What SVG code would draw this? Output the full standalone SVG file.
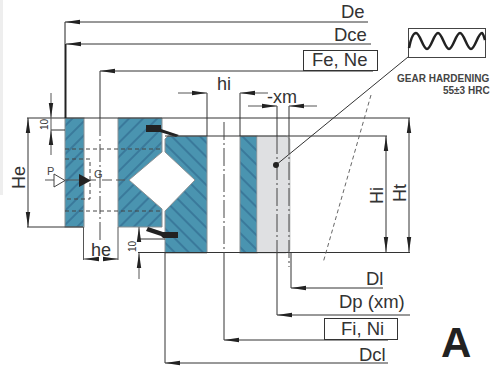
<svg xmlns="http://www.w3.org/2000/svg" width="491" height="366" viewBox="0 0 491 366">
<style>
text{font-family:"Liberation Sans",Arial,sans-serif;fill:#333}
.t16{font-size:18.500px}.t18{font-size:18px}.t10{font-size:10px}.t11{font-size:11px;fill:#444}.t9{font-size:10px;font-weight:bold;fill:#444}
.l{fill:none;stroke:#333;stroke-width:1}
.g{fill:none;stroke:#555;stroke-width:1}
.c{fill:none;stroke:#444;stroke-width:1;stroke-dasharray:18 3 2 3}
.d{fill:none;stroke:#444;stroke-width:1;stroke-dasharray:4 3}
.ol{fill:url(#hatchO);stroke:#8a8f92;stroke-width:1}
.il{fill:url(#hatchI);stroke:#8a8f92;stroke-width:1}
.box{fill:none;stroke:#333;stroke-width:1}
.seal{fill:#222;stroke:none}
</style>
<defs>
<pattern id="hatchO" width="10" height="10" patternUnits="userSpaceOnUse" patternTransform="rotate(45)"><rect width="10" height="10" fill="#4a94b0"/><line x1="5" y1="0" x2="5" y2="10" stroke="#2a5f86" stroke-width="1"/></pattern>
<pattern id="hatchI" width="10" height="10" patternUnits="userSpaceOnUse" patternTransform="rotate(-45)"><rect width="10" height="10" fill="#4a94b0"/><line x1="5" y1="0" x2="5" y2="10" stroke="#2a5f86" stroke-width="1"/></pattern>
<marker id="ar" markerUnits="userSpaceOnUse" markerWidth="15" markerHeight="6" refX="15" refY="3" orient="auto-start-reverse" viewBox="0 0 15 6"><path d="M15 3L0 0.800V5.200Z" fill="#222"/></marker>
</defs>
<rect width="491" height="366" fill="#fff"/>
<rect x="0" y="0" width="3" height="195" fill="#eeeeee"/>

<g id="bearing-section">
<rect class="ol" x="65" y="118" width="19" height="109"/>
<polygon class="ol" points="118,118 162,118 162,152 129,180 162,209 162,227 118,227"/>
<polygon class="il" points="165,139 168,136 207,136 207,253 165,253 165,211 195,180 165,152"/>
<rect class="il" x="240" y="136" width="17" height="117"/>
<polygon points="257,136 286,136 290,139 290,250 286,253 257,253" fill="#dfe0e2" stroke="#a5a7aa" stroke-width="0.6"/>
<path d="M65 149H162M65 211H162" class="d"/>
<path d="M65 159H90V199H65" class="d"/>
<path class="seal" d="M146 125H161V129L179 135L176 137L160 132H146Z"/>
<path class="seal" d="M178 232V238H163L161 236L146 231L148 227L163 232Z"/>
</g>

<g id="connectors">
<path class="l" d="M27 118H410M165 136H387M138 252.500H410M27 227H83M139 239H165M51 130H65"/>
<path d="M65 22V44" stroke="#222" stroke-width="1" fill="none"/>
<path d="M65.500 44V118" stroke="#222" stroke-width="2" fill="none"/>
<path class="l" marker-start="url(#ar)" d="M65 22H368"/>
<path class="l" marker-start="url(#ar)" d="M66 44H371"/>
<path class="l" marker-start="url(#ar)" d="M100 71H373"/>
<path class="l" d="M100 71V118"/>
<path class="c" d="M100 118V240"/>
<path class="l" d="M207 93V136M240 93V136M277 106V136M289 106V136"/>
<path class="g" marker-end="url(#ar)" d="M178 93H207"/>
<path class="g" marker-end="url(#ar)" d="M268 93H240"/>
<path class="g" marker-end="url(#ar)" d="M248 106H277"/>
<path class="g" marker-end="url(#ar)" d="M317 106H289"/>
<path class="l" marker-start="url(#ar)" marker-end="url(#ar)" d="M28 118V227"/>
<path class="l" marker-start="url(#ar)" marker-end="url(#ar)" d="M386 136V252"/>
<path class="l" marker-start="url(#ar)" marker-end="url(#ar)" d="M409 118V252"/>
<path class="g" marker-end="url(#ar)" d="M51 93V118"/>
<path class="g" marker-end="url(#ar)" d="M51 155V130"/>
<path class="g" d="M51 118V130"/>
<path class="g" marker-start="url(#ar)" d="M139 227V239"/>
<path class="g" marker-end="url(#ar)" d="M139 279V253"/>
<path class="g" d="M83.500 227V260M118 227V260"/>
<path class="g" marker-end="url(#ar)" d="M99 259H84"/>
<path class="g" marker-end="url(#ar)" d="M103 259H118"/>
<path class="c" d="M224 122V253"/>
<path class="l" d="M224 253V340"/>
<path class="c" d="M277 136V253"/>
<path class="l" d="M277 253V315"/>
<path class="c" d="M289 136V267" stroke="#666"/>
<path class="l" d="M291 252V288M165 253V363"/>
<path class="l" marker-start="url(#ar)" d="M291 288H383"/>
<path class="l" marker-start="url(#ar)" d="M277 315H410"/>
<path class="l" marker-start="url(#ar)" d="M224 340H388"/>
<path class="l" marker-start="url(#ar)" d="M165 363H388"/>
<path class="l" d="M276 165L408 57"/>
<circle cx="276" cy="165" r="3" fill="#222"/>
<path d="M371 95L323 263" fill="none" stroke="#666" stroke-width="1" stroke-dasharray="4 3"/>
<path class="g" d="M45 180H54M90 180H96M102 180H112M116 180H125M65 180H79"/>
<path d="M54 174V187L65 180.500Z" fill="#fff" stroke="#444" stroke-width="1"/>
<path d="M79 174V187L91 180.500Z" fill="#222"/>
</g>

<g id="label-De"><text class="t16" x="341" y="18">De</text></g>
<g id="label-Dce"><text class="t16" x="334" y="41">Dce</text></g>
<g id="label-FeNe"><rect class="box" x="303.500" y="50.500" width="74" height="20"/><text class="t16" x="312" y="66">Fe, Ne</text></g>
<g id="label-hi"><text class="t18" x="217" y="90">hi</text></g>
<g id="label-xm"><text class="t18" x="267" y="103">-xm</text></g>
<g id="label-He"><text class="t18" transform="translate(25,189) rotate(-90)">He</text></g>
<g id="label-he"><text class="t18" x="91" y="256">he</text></g>
<g id="label-P"><text class="t11" x="47" y="175">P</text></g>
<g id="label-G"><text class="t11" x="94" y="178">G</text></g>
<g id="label-10a"><text class="t10" transform="translate(48,130) rotate(-90)">10</text></g>
<g id="label-10b"><text class="t10" transform="translate(136,252) rotate(-90)">10</text></g>
<g id="label-Hi"><text class="t18" transform="translate(383,204) rotate(-90)">Hi</text></g>
<g id="label-Ht"><text class="t18" transform="translate(406,202) rotate(-90)">Ht</text></g>
<g id="label-Dl"><text class="t16" x="366" y="285">Dl</text></g>
<g id="label-Dp"><text class="t16" x="339" y="308">Dp (xm)</text></g>
<g id="label-FiNi"><rect class="box" x="324.500" y="318.500" width="73" height="21"/><text class="t16" x="341" y="335">Fi, Ni</text></g>
<g id="label-Dcl"><text class="t16" x="359" y="361">Dcl</text></g>
<g id="label-A"><text x="441" y="357" font-size="42" font-weight="bold" style="fill:#222">A</text></g>

<g id="gear-detail">
<rect x="408.500" y="28.500" width="77" height="29" fill="#fff" stroke="#444" stroke-width="1"/>
<path d="M409 48C411 38 413 33 416 33C420 33 423 49 427 49C431 49 434 33 438 33C442 33 445 49 449 49C453 49 456 33 460 33C464 33 467 49 471 49C475 49 478 33 482 33C483 33 484 37 485 40" fill="none" stroke="#222" stroke-width="2.500"/>
<text class="t9" x="397" y="82">GEAR HARDENING</text>
<text class="t9" x="443" y="94">55±3 HRC</text>
</g>
</svg>
